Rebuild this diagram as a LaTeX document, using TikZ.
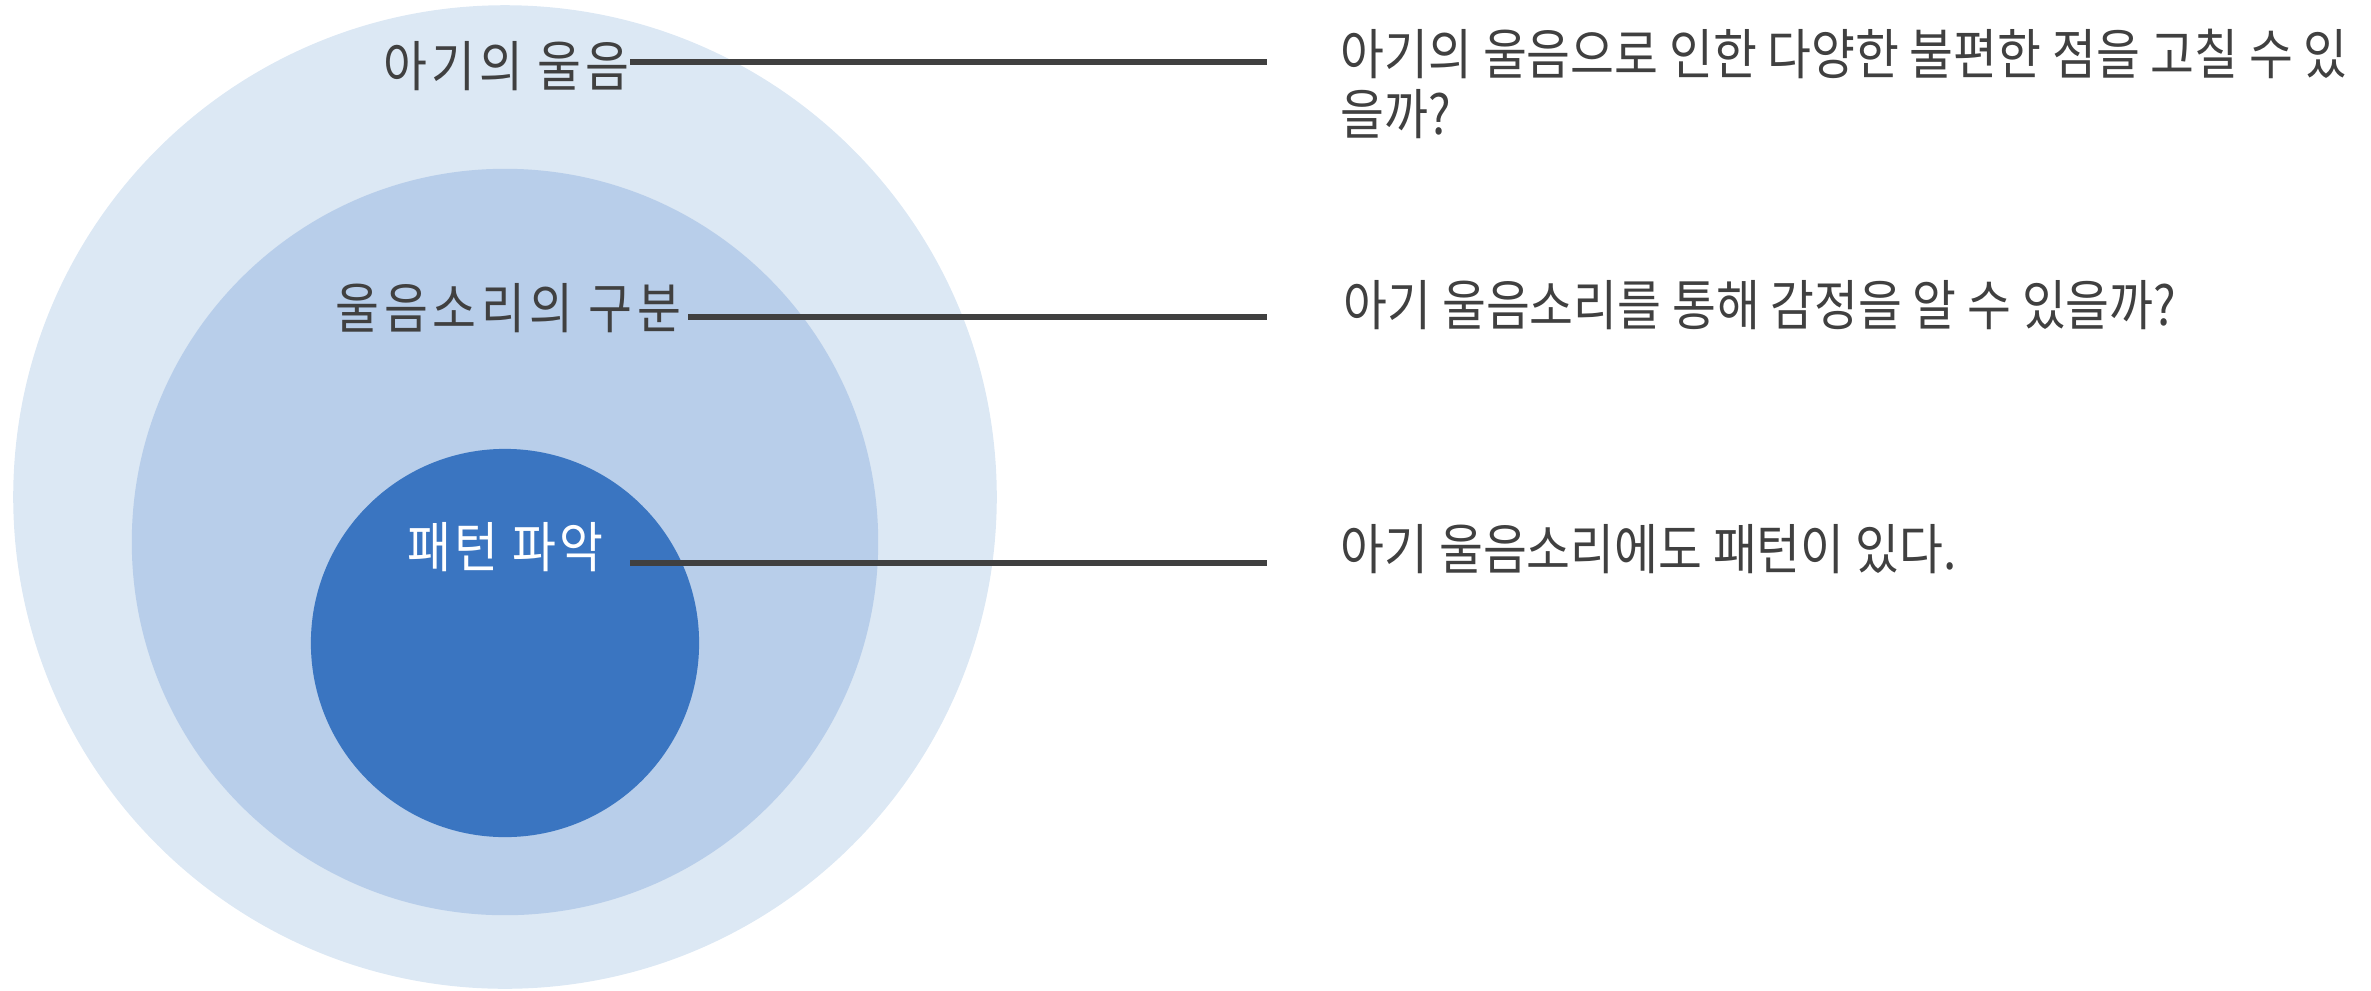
\documentclass[tikz,border=0pt]{standalone}
\usepackage{fontspec}
\newfontfamily\krfont[FakeStretch=0.875]{Noto Sans CJK KR}
\usetikzlibrary{positioning}

\definecolor{ringout}{RGB}{220,232,244}
\definecolor{ringmid}{RGB}{184,206,234}
\definecolor{ringin}{RGB}{58,117,193}
\definecolor{inkgray}{RGB}{64,64,64}

\begin{document}
\begin{tikzpicture}[x=0.01cm, y=-0.01cm,
  ring/.style={circle, inner sep=0pt},
  lead/.style={draw=inkgray, line width=1.5pt},
  tag/.style={font=\krfont\fontsize{15.5}{17}\selectfont, text=inkgray, inner sep=0pt},
  note/.style={tag, align=left, anchor=base west},
]
\useasboundingbox (0,0) rectangle (2371,990);

% === NESTED CIRCLES ===
\node[ring, fill=ringout, minimum size=9.83cm] (outer) at (505,497) {};
\node[ring, fill=ringmid, minimum size=7.46cm] (middle) at (505,542) {};
\node[ring, fill=ringin, minimum size=3.88cm] (inner) at (505,643) {};

% === CIRCLE LABELS ===
\node[tag, anchor=base west] (cry) at (383,86) {\addfontfeature{LetterSpace=7}아기의 울음};
\node[tag, anchor=base west] (sortcry) at (335,328) {\addfontfeature{LetterSpace=8.5}울음소리의 구분};
\node[tag, anchor=base west, text=white] (pattern) at (407,567) {\addfontfeature{LetterSpace=6}패턴 파악};

% === QUESTIONS ===
\node[note] (q1) at (1340,134) {아기의 울음으로 인한 다양한 불편한 점을 고칠 수 있\\을까?};
\node[note] (q2) at (1343,325) {아기 울음소리를 통해 감정을 알 수 있을까?};
\node[note] (q3) at (1340,569) {아기 울음소리에도 패턴이 있다.};

% leader lines
\coordinate (l1a) at (630,62);  \coordinate (l1b) at (1267,62);
\coordinate (l2a) at (688,317); \coordinate (l2b) at (1267,317);
\coordinate (l3a) at (630,563); \coordinate (l3b) at (1267,563);
\draw[lead] (l1a) -- (l1b);
\draw[lead] (l2a) -- (l2b);
\draw[lead] (l3a) -- (l3b);
\end{tikzpicture}
\end{document}
